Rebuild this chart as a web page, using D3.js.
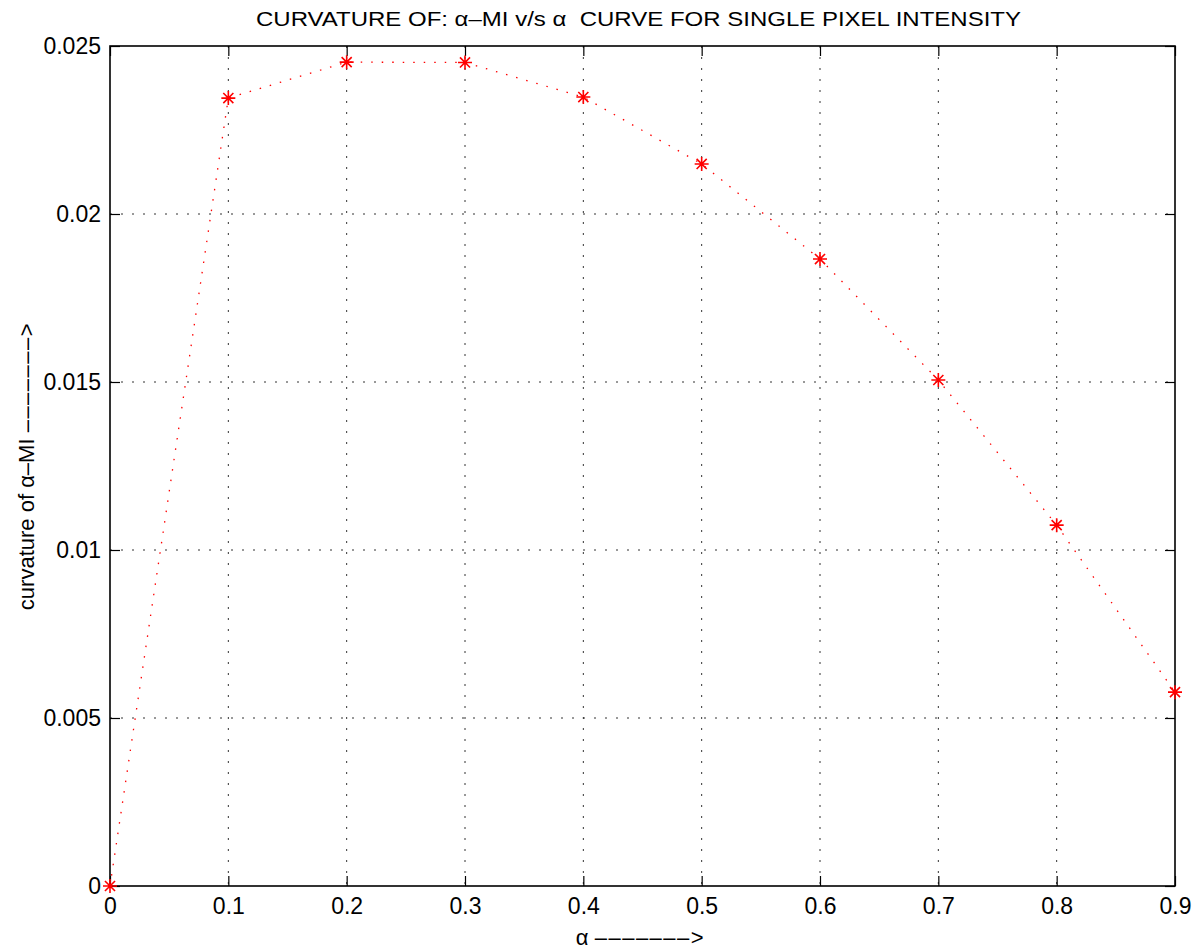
<!DOCTYPE html>
<html>
<head>
    <meta charset="UTF-8">
    <title>curvature of alpha-MI</title>
    <style>
        body { margin: 0; background: #fff; }
        svg text { font-family: 'Liberation Sans', Arial, Helvetica, sans-serif; fill: #000; white-space: pre; }
        .tick text { font-size: 23px; }
        .grid line { stroke: #333; stroke-width: 1; stroke-dasharray: 2,9; }
    </style>
</head>
<body>
    <script src="https://d3js.org/d3.v7.min.js"></script>
    <svg id="chart"></svg>
    <script>
        /// data
        var alphas = [0, 0.1, 0.2, 0.3, 0.4, 0.5, 0.6, 0.7, 0.8, 0.9];
        var curvature = [0, 0.02345, 0.02452, 0.02451, 0.02348, 0.02149, 0.01866, 0.01506, 0.01074, 0.00577];
        var xTicks = [0, 0.1, 0.2, 0.3, 0.4, 0.5, 0.6, 0.7, 0.8, 0.9];
        var yTicks = [0, 0.005, 0.01, 0.015, 0.02, 0.025];
        var title = "CURVATURE OF: \u03b1\u2013MI v/s \u03b1  CURVE FOR SINGLE PIXEL INTENSITY";
        var arrow = "\u2013\u2013\u2013\u2013\u2013\u2013\u2013>";
        var xLabel = "\u03b1 ";
        var yLabel = "curvature of \u03b1\u2013MI ";

        /// layout
        var width = 1197, height = 949;
        var margin = { top: 46, right: 22, bottom: 63, left: 110 };
        var w = width - margin.left - margin.right,
            h = height - margin.top - margin.bottom;

        var svg = d3.select("#chart")
            .attr("width", width)
            .attr("height", height);

        var g = svg.append("g")
            .attr("transform", "translate(" + margin.left + "," + margin.top + ")");

        var x = d3.scaleLinear().domain([0, 0.9]).range([0, w]);
        var y = d3.scaleLinear().domain([0, 0.025]).range([h, 0]);

        // dotted grid
        g.append("g").attr("class", "grid")
            .selectAll("line").data(xTicks.slice(1, -1)).enter().append("line")
            .attr("x1", d => x(d)).attr("x2", d => x(d))
            .attr("y1", 0).attr("y2", h);
        g.append("g").attr("class", "grid")
            .selectAll("line").data(yTicks.slice(1, -1)).enter().append("line")
            .attr("y1", d => y(d)).attr("y2", d => y(d))
            .attr("x1", 0).attr("x2", w);

        // axes, ticks pointing inward (matlab style)
        var fmt = d => String(+d.toFixed(3));
        var xAxis = g.append("g").attr("transform", "translate(0," + h + ")")
            .call(d3.axisBottom(x).tickValues(xTicks).tickFormat(fmt).tickSizeInner(-10).tickSizeOuter(0).tickPadding(12));
        var xTop = g.append("g")
            .call(d3.axisTop(x).tickValues(xTicks).tickFormat("").tickSizeInner(-10).tickSizeOuter(0));
        var yAxis = g.append("g")
            .call(d3.axisLeft(y).tickValues(yTicks).tickFormat(fmt).tickSizeInner(-10).tickSizeOuter(0).tickPadding(9));
        var yRight = g.append("g").attr("transform", "translate(" + w + ",0)")
            .call(d3.axisRight(y).tickValues(yTicks).tickFormat("").tickSizeInner(-10).tickSizeOuter(0));

        [xAxis, xTop, yAxis, yRight].forEach(function(a) {
            a.select(".domain").remove();
            a.selectAll(".tick line").attr("stroke", "#000").attr("stroke-width", 1.2);
        });
        xAxis.selectAll(".tick text").attr("dy", "0.71em");

        // frame
        g.append("rect")
            .attr("width", w).attr("height", h)
            .attr("fill", "none").attr("stroke", "#000").attr("stroke-width", 1.6);

        // dotted red line
        var pts = alphas.map((a, i) => [a, curvature[i]]);
        g.append("path")
            .datum(pts)
            .attr("fill", "none")
            .attr("stroke", "#ff0000")
            .attr("stroke-width", 1.3)
            .attr("stroke-dasharray", "1.5,9")
            .attr("d", d3.line().x(d => x(d[0])).y(d => y(d[1])));

        // asterisk markers
        var r = 7, rd = r * 0.72;
        var star = "M" + (-r) + ",0H" + r + "M0," + (-r) + "V" + r +
            "M" + (-rd) + "," + (-rd) + "L" + rd + "," + rd +
            "M" + (-rd) + "," + rd + "L" + rd + "," + (-rd);
        g.append("g").selectAll("path").data(pts).enter().append("path")
            .attr("transform", d => "translate(" + x(d[0]) + "," + y(d[1]) + ")")
            .attr("d", star)
            .attr("stroke", "#ff0000")
            .attr("stroke-width", 1.6)
            .attr("fill", "none");

        // labels
        svg.append("text")
            .attr("x", margin.left + w / 2 - 4).attr("y", 26)
            .attr("text-anchor", "middle")
            .attr("font-size", 20.5)
            .attr("textLength", 765)
            .attr("lengthAdjust", "spacingAndGlyphs")
            .text(title);

        var xl = svg.append("text")
            .attr("x", margin.left + w / 2 - 2).attr("y", 945)
            .attr("text-anchor", "middle")
            .attr("font-size", 22)
            .text(xLabel);
        xl.append("tspan").attr("letter-spacing", "1.5px").text(arrow);

        var yl = svg.append("text")
            .attr("transform", "translate(34," + (margin.top + h / 2) + ") rotate(-90)")
            .attr("text-anchor", "middle")
            .attr("font-size", 22)
            .text(yLabel);
        yl.append("tspan").attr("letter-spacing", "1.5px").text(arrow);
    </script>
</body>
</html>
